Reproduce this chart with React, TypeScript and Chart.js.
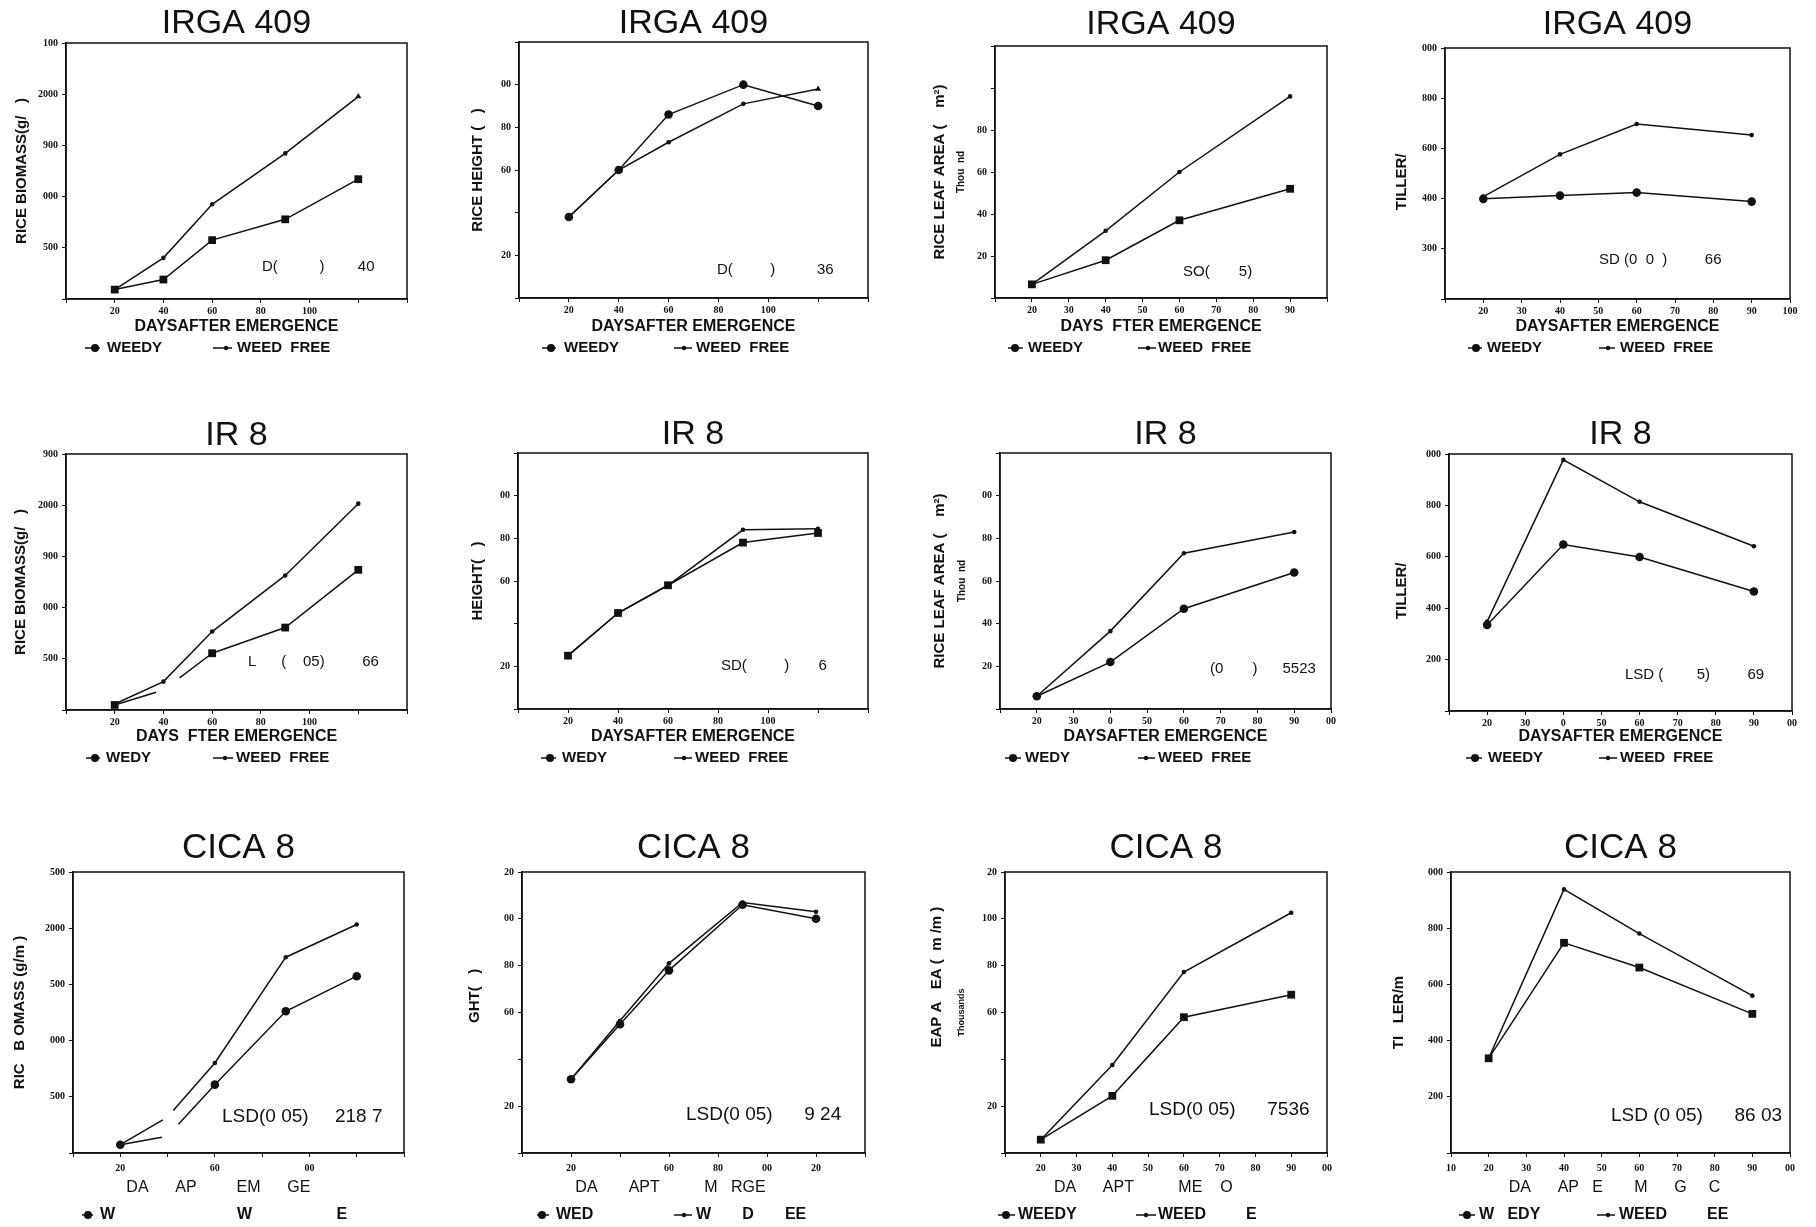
import React, { useEffect, useRef } from 'react';
import { Chart, registerables } from 'chart.js';

Chart.register(...registerables);

const SANS = "'Liberation Sans', Arial, Helvetica, sans-serif";
const SERIF = "'Liberation Serif', 'Times New Roman', serif";
const INK = '#111111';

// ---------------- data ----------------
const DAYS_LONG = [20, 40, 60, 90, 120];
const DAYS_SHORT = [20, 40, 60, 90];

const IRGA_BIOMASS_WEEDY = [92, 190, 575, 778, 1170];
const IRGA_BIOMASS_FREE = [92, 402, 925, 1422, 1977];
const IRGA_HEIGHT_WEEDY = [38, 60, 86, 100, 90];
const IRGA_HEIGHT_FREE = [38, 60, 73, 91, 98];
const IRGA_LEAF_WEEDY = [6.5, 18, 37, 52];
const IRGA_LEAF_FREE = [6.5, 32, 60, 96];
const IRGA_TILLER_WEEDY = [399, 412, 424, 388];
const IRGA_TILLER_FREE = [408, 576, 697, 653];

const IR8_BIOMASS_WEEDY = [49, 195, 554, 805, 1369];
const IR8_BIOMASS_FREE = [59, 277, 766, 1314, 2015];
const IR8_HEIGHT_WEEDY = [25, 45, 58, 78, 82.5];
const IR8_HEIGHT_FREE = [25, 45, 58, 84, 84.5];
const IR8_LEAF_WEEDY = [6, 22, 47, 64];
const IR8_LEAF_FREE = [6, 36.5, 73, 83];
const IR8_TILLER_WEEDY = [335, 648, 599, 465];
const IR8_TILLER_FREE = [348, 977, 814, 641];

const CICA_BIOMASS_WEEDY = [74, 150, 608, 1261, 1573];
const CICA_BIOMASS_FREE = [74, 320, 801, 1742, 2033];
const CICA_HEIGHT_WEEDY = [31.5, 55, 78, 106, 100];
const CICA_HEIGHT_FREE = [31.5, 56.5, 81, 107, 103];
const CICA_LEAF_WEEDY = [5.7, 24.4, 58, 67.6];
const CICA_LEAF_FREE = [5.7, 37.6, 77.3, 102.6];
const CICA_TILLER_WEEDY = [337, 748, 660, 495];
const CICA_TILLER_FREE = [337, 938, 781, 560];

// ---------------- tick labels ----------------
const X_TICKS_WIDE = ['', '20', '40', '60', '80', '100', '', ''];
const X_TICKS_CICA_BIOMASS = ['', '20', '', '60', '', '00', '', ''];
const X_TICKS_CICA_HEIGHT = ['', '20', '', '60', '80', '00', '20', ''];
const X_TICKS_IRGA_LEAF = ['', '20', '30', '40', '50', '60', '70', '80', '90', ''];
const X_TICKS_IRGA_TILLER = ['', '20', '30', '40', '50', '60', '70', '80', '90', '100'];
const X_TICKS_IR8_NARROW = ['', '20', '30', '0', '50', '60', '70', '80', '90', '00'];
const X_TICKS_CICA_LEAF = ['', '20', '30', '40', '50', '60', '70', '80', '90', '00'];
const X_TICKS_CICA_TILLER = ['10', '20', '30', '40', '50', '60', '70', '80', '90', '00'];

const Y_TICKS_IRGA_BIOMASS = ['', '500', '000', '900', '2000', '100'];
const Y_TICKS_IR8_BIOMASS = ['', '500', '000', '900', '2000', '900'];
const Y_TICKS_CICA_BIOMASS = ['', '500', '000', '500', '2000', '500'];
const Y_TICKS_HEIGHT = ['', '20', '', '60', '80', '00', ''];
const Y_TICKS_CICA_HEIGHT = ['', '20', '', '60', '80', '00', '20'];
const Y_TICKS_IRGA_LEAF = ['', '20', '40', '60', '80', '', ''];
const Y_TICKS_IR8_LEAF = ['', '20', '40', '60', '80', '00', ''];
const Y_TICKS_CICA_LEAF = ['', '20', '', '60', '80', '100', '20'];
const Y_TICKS_IRGA_TILLER = ['', '300', '400', '600', '800', '000'];
const Y_TICKS_TILLER = ['', '200', '400', '600', '800', '000'];

// ---------------- layout config ----------------
const sp = (n: number) => ' '.repeat(n);

type Axis = { min: number; max: number; step: number; labels: string[] };
type LegendItem = { tx: number; line?: [number, number]; dot?: number };
// scan breaks in a line: [segment index, hidden from fraction, hidden to fraction]
type Gap = [number, number, number];
type PanelCfg = {
  col: number;
  row: number;
  area: { l: number; r: number; t: number; b: number };
  title: string;
  titleY: number;
  yTitle: string;
  yTitleX: number;
  sub?: { text: string; x: number; size: number };
  xTitle: string;
  xAlign: 'center' | 'start';
  x: Axis;
  y: Axis;
  days: number[];
  weedy: number[];
  free: number[];
  names: [string, string];
  weedyStyle: 'circle' | 'rect';
  hideWeedy?: number[];
  hideFree?: number[];
  gapsWeedy?: Gap[];
  gapsFree?: Gap[];
  freeTriangleLast?: boolean;
  note: { text: string; x: number; y: number; size: number };
  legend: LegendItem[];
};

const ROW_TOP = [0, 410, 820];
const ROW_H = [400, 400, 407];
const COL_W = 454;

const ax = (min: number, max: number, step: number, labels: string[]): Axis => ({ min, max, step, labels });

const PANELS: PanelCfg[] = [
  {
    col: 0, row: 0, area: { l: 66, r: 407, t: 43, b: 299 }, title: 'IRGA 409', titleY: 24,
    yTitle: 'RICE BIOMASS(g/   )', yTitleX: 22, xTitle: 'DAYSAFTER EMERGENCE', xAlign: 'center',
    x: ax(0, 140, 20, X_TICKS_WIDE), y: ax(0, 2500, 500, Y_TICKS_IRGA_BIOMASS),
    days: DAYS_LONG, weedy: IRGA_BIOMASS_WEEDY, free: IRGA_BIOMASS_FREE, names: ['WEEDY', 'WEED  FREE'],
    weedyStyle: 'rect', freeTriangleLast: true,
    note: { text: 'D(' + sp(10) + ')' + sp(8) + '40', x: 262, y: 267, size: 15 },
    legend: [{ tx: 107, line: [85, 100], dot: 95 }, { tx: 237, line: [213, 232], dot: 226 }],
  },
  {
    col: 1, row: 0, area: { l: 65, r: 414, t: 42, b: 298 }, title: 'IRGA 409', titleY: 24,
    yTitle: 'RICE HEIGHT (   )', yTitleX: 24, xTitle: 'DAYSAFTER EMERGENCE', xAlign: 'center',
    x: ax(0, 140, 20, X_TICKS_WIDE), y: ax(0, 120, 20, Y_TICKS_HEIGHT),
    days: DAYS_LONG, weedy: IRGA_HEIGHT_WEEDY, free: IRGA_HEIGHT_FREE, names: ['WEEDY', 'WEED  FREE'],
    weedyStyle: 'circle', freeTriangleLast: true,
    note: { text: 'D(' + sp(9) + ')' + sp(10) + '36', x: 263, y: 270, size: 15 },
    legend: [{ tx: 110, line: [88, 102], dot: 97 }, { tx: 242, line: [220, 238], dot: 230 }],
  },
  {
    col: 2, row: 0, area: { l: 87, r: 419, t: 46, b: 298 }, title: 'IRGA 409', titleY: 25,
    yTitle: 'RICE LEAF AREA (    m²)', yTitleX: 32, sub: { text: 'Thou  nd', x: 53, size: 10 },
    xTitle: 'DAYS  FTER EMERGENCE', xAlign: 'center',
    x: ax(10, 100, 10, X_TICKS_IRGA_LEAF), y: ax(0, 120, 20, Y_TICKS_IRGA_LEAF),
    days: DAYS_SHORT, weedy: IRGA_LEAF_WEEDY, free: IRGA_LEAF_FREE, names: ['WEEDY', 'WEED  FREE'],
    weedyStyle: 'rect',
    note: { text: 'SO(' + sp(7) + '5)', x: 275, y: 272, size: 15 },
    legend: [{ tx: 120, line: [100, 115], dot: 107 }, { tx: 250, line: [230, 248], dot: 240 }],
  },
  {
    col: 3, row: 0, area: { l: 83, r: 428, t: 48, b: 299 }, title: 'IRGA 409', titleY: 25,
    yTitle: 'TILLER/' + sp(4), yTitleX: 40, xTitle: 'DAYSAFTER EMERGENCE', xAlign: 'center',
    x: ax(10, 100, 10, X_TICKS_IRGA_TILLER), y: ax(0, 1000, 200, Y_TICKS_IRGA_TILLER),
    days: DAYS_SHORT, weedy: IRGA_TILLER_WEEDY, free: IRGA_TILLER_FREE, names: ['WEEDY', 'WEED  FREE'],
    weedyStyle: 'circle',
    note: { text: 'SD (0  0  )' + sp(9) + '66', x: 237, y: 260, size: 15 },
    legend: [{ tx: 125, line: [106, 120], dot: 114 }, { tx: 258, line: [237, 253], dot: 246 }],
  },
  {
    col: 0, row: 1, area: { l: 66, r: 407, t: 44, b: 300 }, title: 'IR 8', titleY: 26,
    yTitle: 'RICE BIOMASS(g/   )', yTitleX: 21, xTitle: 'DAYS  FTER EMERGENCE', xAlign: 'center',
    x: ax(0, 140, 20, X_TICKS_WIDE), y: ax(0, 2500, 500, Y_TICKS_IR8_BIOMASS),
    days: DAYS_LONG, weedy: IR8_BIOMASS_WEEDY, free: IR8_BIOMASS_FREE, names: ['WEDY', 'WEED  FREE'],
    weedyStyle: 'rect', hideWeedy: [1], gapsWeedy: [[0, 0.85, 1], [1, 0, 0.33]],
    note: { text: 'L' + sp(6) + '(' + sp(4) + '05)' + sp(9) + '66', x: 248, y: 252, size: 15 },
    legend: [{ tx: 106, line: [86, 100], dot: 95 }, { tx: 236, line: [213, 233], dot: 225 }],
  },
  {
    col: 1, row: 1, area: { l: 64, r: 414, t: 43, b: 299 }, title: 'IR 8', titleY: 25,
    yTitle: 'HEIGHT(   )', yTitleX: 24, xTitle: 'DAYSAFTER EMERGENCE', xAlign: 'center',
    x: ax(0, 140, 20, X_TICKS_WIDE), y: ax(0, 120, 20, Y_TICKS_HEIGHT),
    days: DAYS_LONG, weedy: IR8_HEIGHT_WEEDY, free: IR8_HEIGHT_FREE, names: ['WEDY', 'WEED  FREE'],
    weedyStyle: 'rect',
    note: { text: 'SD(' + sp(9) + ')' + sp(7) + '6', x: 267, y: 256, size: 15 },
    legend: [{ tx: 108, line: [87, 102], dot: 96 }, { tx: 241, line: [220, 238], dot: 230 }],
  },
  {
    col: 2, row: 1, area: { l: 92, r: 423, t: 43, b: 299 }, title: 'IR 8', titleY: 25,
    yTitle: 'RICE LEAF AREA (    m²)', yTitleX: 32, sub: { text: 'Thou  nd', x: 54, size: 10 },
    xTitle: 'DAYSAFTER EMERGENCE', xAlign: 'center',
    x: ax(10, 100, 10, X_TICKS_IR8_NARROW), y: ax(0, 120, 20, Y_TICKS_IR8_LEAF),
    days: DAYS_SHORT, weedy: IR8_LEAF_WEEDY, free: IR8_LEAF_FREE, names: ['WEDY', 'WEED  FREE'],
    weedyStyle: 'circle',
    note: { text: '(0' + sp(7) + ')' + sp(6) + '5523', x: 302, y: 259, size: 15 },
    legend: [{ tx: 117, line: [97, 113], dot: 105 }, { tx: 250, line: [230, 247], dot: 238 }],
  },
  {
    col: 3, row: 1, area: { l: 87, r: 430, t: 44, b: 301 }, title: 'IR 8', titleY: 25,
    yTitle: 'TILLER/' + sp(4), yTitleX: 40, xTitle: 'DAYSAFTER EMERGENCE', xAlign: 'center',
    x: ax(10, 100, 10, X_TICKS_IR8_NARROW), y: ax(0, 1000, 200, Y_TICKS_TILLER),
    days: DAYS_SHORT, weedy: IR8_TILLER_WEEDY, free: IR8_TILLER_FREE, names: ['WEEDY', 'WEED  FREE'],
    weedyStyle: 'circle',
    note: { text: 'LSD (' + sp(8) + '5)' + sp(9) + '69', x: 263, y: 265, size: 15 },
    legend: [{ tx: 126, line: [104, 120], dot: 113 }, { tx: 258, line: [237, 255], dot: 246 }],
  },
  {
    col: 0, row: 2, area: { l: 73, r: 404, t: 52, b: 333 }, title: 'CICA 8', titleY: 28,
    yTitle: 'RIC   B OMASS (g/m )', yTitleX: 20,
    xTitle: sp(12) + 'DA' + sp(6) + 'AP' + sp(9) + 'EM' + sp(6) + 'GE', xAlign: 'start',
    x: ax(0, 140, 20, X_TICKS_CICA_BIOMASS), y: ax(0, 2500, 500, Y_TICKS_CICA_BIOMASS),
    days: DAYS_LONG, weedy: CICA_BIOMASS_WEEDY, free: CICA_BIOMASS_FREE, names: ['W', 'W' + sp(19) + 'E'],
    weedyStyle: 'circle', hideWeedy: [1], hideFree: [1],
    gapsWeedy: [[0, 0.88, 1], [1, 0, 0.23]], gapsFree: [[0, 0.9, 1], [1, 0, 0.12]],
    note: { text: 'LSD(0 05)' + sp(5) + '218 7', x: 222, y: 297, size: 19 },
    legend: [{ tx: 100, line: [82, 93], dot: 88 }, { tx: 237 }],
  },
  {
    col: 1, row: 2, area: { l: 68, r: 411, t: 52, b: 333 }, title: 'CICA 8', titleY: 28,
    yTitle: sp(8) + 'GHT(   )', yTitleX: 21,
    xTitle: sp(12) + 'DA' + sp(7) + 'APT' + sp(10) + 'M' + sp(3) + 'RGE', xAlign: 'start',
    x: ax(0, 140, 20, X_TICKS_CICA_HEIGHT), y: ax(0, 120, 20, Y_TICKS_CICA_HEIGHT),
    days: DAYS_LONG, weedy: CICA_HEIGHT_WEEDY, free: CICA_HEIGHT_FREE, names: ['WED', 'W' + sp(7) + 'D' + sp(7) + 'EE'],
    weedyStyle: 'circle',
    note: { text: 'LSD(0 05)' + sp(6) + '9 24', x: 232, y: 295, size: 19 },
    legend: [{ tx: 102, line: [83, 95], dot: 88 }, { tx: 242, line: [220, 238], dot: 230 }],
  },
  {
    col: 2, row: 2, area: { l: 97, r: 419, t: 52, b: 333 }, title: 'CICA 8', titleY: 28,
    yTitle: sp(17) + 'EAP A   EA (  m /m )', yTitleX: 29, sub: { text: 'Thousands', x: 54, size: 9 },
    xTitle: sp(11) + 'DA' + sp(6) + 'APT' + sp(10) + 'ME' + sp(4) + 'O', xAlign: 'start',
    x: ax(10, 100, 10, X_TICKS_CICA_LEAF), y: ax(0, 120, 20, Y_TICKS_CICA_LEAF),
    days: DAYS_SHORT, weedy: CICA_LEAF_WEEDY, free: CICA_LEAF_FREE, names: ['WEEDY', 'WEED' + sp(9) + 'E'],
    weedyStyle: 'rect',
    note: { text: 'LSD(0 05)' + sp(6) + '7536', x: 241, y: 290, size: 19 },
    legend: [{ tx: 110, line: [90, 107], dot: 98 }, { tx: 250, line: [228, 248], dot: 238 }],
  },
  {
    col: 3, row: 2, area: { l: 89, r: 428, t: 52, b: 333 }, title: 'CICA 8', titleY: 28,
    yTitle: 'TI   LER/m', yTitleX: 37,
    xTitle: sp(13) + 'DA' + sp(6) + 'AP' + sp(3) + 'E' + sp(7) + 'M' + sp(6) + 'G' + sp(5) + 'C', xAlign: 'start',
    x: ax(10, 100, 10, X_TICKS_CICA_TILLER), y: ax(0, 1000, 200, Y_TICKS_TILLER),
    days: DAYS_SHORT, weedy: CICA_TILLER_WEEDY, free: CICA_TILLER_FREE, names: ['W' + sp(3) + 'EDY', 'WEED' + sp(9) + 'EE'],
    weedyStyle: 'rect',
    note: { text: 'LSD (0 05)' + sp(6) + '86 03', x: 249, y: 296, size: 19 },
    legend: [{ tx: 117, line: [97, 113], dot: 105 }, { tx: 257, line: [235, 253], dot: 246 }],
  },
];

const tickLabel = (a: Axis, v: number) => a.labels[Math.round((v - a.min) / a.step)] ?? '';

// dash pattern that leaves a break in one line segment (scan damage in the original)
const gapDash = (gaps?: Gap[]) => (ctx: any) => {
  if (!gaps) return undefined;
  const g = gaps.find((q) => q[0] === ctx.p0DataIndex);
  if (!g) return undefined;
  const len = Math.hypot(ctx.p1.x - ctx.p0.x, ctx.p1.y - ctx.p0.y);
  return [g[1] * len, (g[2] - g[1]) * len, len * 2];
};

function buildConfig(cfg: PanelCfg): any {
  const H = ROW_H[cfg.row];
  const W = COL_W;
  const last = cfg.row === 2;
  const xTitleY = last ? 368 : 327;
  const xTickCenter = last ? cfg.area.b + 15 : cfg.area.b + 12;
  const xH = xTitleY - cfg.area.b + 8;
  const tickPad = xTickCenter - cfg.area.b - 4 - 6;
  const titleSize = last ? 35 : 34;
  const legendY = last ? 395 : 348;
  const legendSize = last ? 16 : 15;

  const decor = {
    id: 'decor',
    afterDraw(chart: any) {
      const { ctx, chartArea: a } = chart;
      ctx.save();
      ctx.setLineDash([]);
      ctx.strokeStyle = INK;
      ctx.fillStyle = INK;
      ctx.lineWidth = 1.5;
      ctx.strokeRect(a.left, a.top, a.right - a.left, a.bottom - a.top);

      ctx.textAlign = 'left';
      ctx.textBaseline = 'middle';
      ctx.font = `${cfg.note.size}px ${SANS}`;
      ctx.fillText(cfg.note.text, cfg.note.x, cfg.note.y);

      if (cfg.sub) {
        ctx.save();
        ctx.translate(cfg.sub.x, (a.top + a.bottom) / 2);
        ctx.rotate(-Math.PI / 2);
        ctx.textAlign = 'center';
        ctx.font = `bold ${cfg.sub.size}px ${SANS}`;
        ctx.fillText(cfg.sub.text, 0, 0);
        ctx.restore();
      }

      ctx.font = `bold ${legendSize}px ${SANS}`;
      chart.data.datasets.forEach((ds: any, i: number) => {
        const it = cfg.legend[i];
        if (it.line) {
          ctx.beginPath();
          ctx.moveTo(it.line[0], legendY);
          ctx.lineTo(it.line[1], legendY);
          ctx.stroke();
        }
        if (it.dot != null) {
          ctx.beginPath();
          ctx.arc(it.dot, legendY, i === 0 ? 4 : 2.2, 0, Math.PI * 2);
          ctx.fill();
        }
        ctx.fillText(ds.label, it.tx, legendY);
      });
      ctx.restore();
    },
  };

  const tickFont = { family: SERIF, size: 10, weight: 'bold', lineHeight: 1.2 };
  const grid = { display: true, drawOnChartArea: false, drawTicks: true, tickLength: 4, color: INK, lineWidth: 1 };
  const border = { display: true, color: INK, width: 1.5 };
  const n = cfg.days.length;
  const weedyR = cfg.weedyStyle === 'rect' ? 5.5 : 4.3;

  return {
    type: 'line',
    data: {
      datasets: [
        {
          label: cfg.names[0],
          data: cfg.days.map((d, i) => ({ x: d, y: cfg.weedy[i] })),
          borderColor: INK,
          backgroundColor: INK,
          borderWidth: 1.5,
          tension: 0,
          pointStyle: cfg.weedyStyle,
          pointRadius: cfg.days.map((_, i) => (cfg.hideWeedy && cfg.hideWeedy.includes(i) ? 0 : weedyR)),
          pointBorderWidth: 0,
          pointBackgroundColor: INK,
          segment: { borderDash: gapDash(cfg.gapsWeedy) },
        },
        {
          label: cfg.names[1],
          data: cfg.days.map((d, i) => ({ x: d, y: cfg.free[i] })),
          borderColor: INK,
          backgroundColor: INK,
          borderWidth: 1.5,
          tension: 0,
          pointStyle: cfg.days.map((_, i) => (cfg.freeTriangleLast && i === n - 1 ? 'triangle' : 'circle')),
          pointRadius: cfg.days.map((_, i) =>
            cfg.hideFree && cfg.hideFree.includes(i) ? 0 : cfg.freeTriangleLast && i === n - 1 ? 3.5 : 2.3
          ),
          pointBorderWidth: 0,
          pointBackgroundColor: INK,
          segment: { borderDash: gapDash(cfg.gapsFree) },
        },
      ],
    },
    options: {
      responsive: false,
      animation: false,
      events: [],
      layout: { padding: { left: 0, top: 0, right: W - cfg.area.r, bottom: H - cfg.area.b - xH } },
      plugins: {
        legend: { display: false },
        tooltip: { enabled: false },
        title: {
          display: true,
          text: cfg.title,
          position: 'top',
          fullSize: false,
          color: INK,
          font: { family: SANS, size: titleSize, weight: 'normal', lineHeight: 1 },
          padding: { top: cfg.titleY - titleSize / 2, bottom: cfg.area.t - cfg.titleY - titleSize / 2 },
        },
      },
      scales: {
        x: {
          type: 'linear',
          min: cfg.x.min,
          max: cfg.x.max,
          afterFit: (s: any) => {
            s.height = xH;
          },
          ticks: {
            stepSize: cfg.x.step,
            autoSkip: false,
            maxRotation: 0,
            minRotation: 0,
            padding: tickPad,
            color: INK,
            font: tickFont,
            callback: (v: number) => tickLabel(cfg.x, v),
          },
          grid,
          border,
          title: {
            display: true,
            text: cfg.xTitle,
            align: cfg.xAlign,
            color: INK,
            font: { family: SANS, size: 16, weight: last ? 'normal' : 'bold', lineHeight: 1 },
            padding: 0,
          },
        },
        y: {
          type: 'linear',
          min: cfg.y.min,
          max: cfg.y.max,
          afterFit: (s: any) => {
            s.width = cfg.area.l;
          },
          ticks: {
            stepSize: cfg.y.step,
            autoSkip: false,
            padding: 4,
            color: INK,
            font: tickFont,
            callback: (v: number) => tickLabel(cfg.y, v),
          },
          grid,
          border,
          title: {
            display: true,
            text: cfg.yTitle,
            color: INK,
            font: { family: SANS, size: 15, weight: 'bold', lineHeight: 1 },
            padding: { top: cfg.yTitleX - 7.5, bottom: 0 },
          },
        },
      },
    },
    plugins: [decor],
  };
}

function Panel({ cfg }: { cfg: PanelCfg }) {
  const ref = useRef<HTMLCanvasElement | null>(null);
  useEffect(() => {
    const canvas = ref.current;
    if (!canvas) return;
    const chart = new Chart(canvas, buildConfig(cfg));
    return () => chart.destroy();
  }, [cfg]);
  const H = ROW_H[cfg.row];
  return (
    <canvas
      ref={ref}
      width={COL_W}
      height={H}
      style={{ position: 'absolute', left: cfg.col * COL_W, top: ROW_TOP[cfg.row], width: COL_W, height: H }}
    />
  );
}

export default function App() {
  return (
    <div
      style={{
        position: 'fixed',
        left: 0,
        top: 0,
        width: 1816,
        height: 1227,
        background: '#ffffff',
        overflow: 'hidden',
      }}
    >
      {PANELS.map((p, i) => (
        <Panel key={i} cfg={p} />
      ))}
    </div>
  );
}
